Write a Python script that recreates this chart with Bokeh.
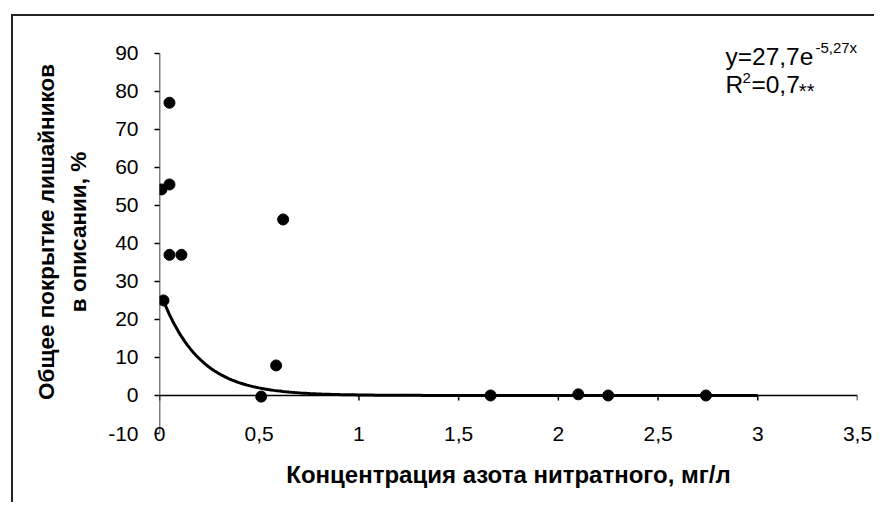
import numpy as np
from bokeh.plotting import figure
from bokeh.models import FixedTicker, CustomJSTickFormatter, Label, Span
from bokeh.embed import file_html
from bokeh.resources import INLINE

# Data
conc = [0.01, 0.05, 0.05, 0.05, 0.11, 0.62, 0.02, 0.585, 0.51, 1.66, 2.10, 2.25, 2.74]
cover = [54.2, 77.0, 55.5, 37.0, 37.0, 46.3, 25.0, 7.9, -0.3, 0.0, 0.3, 0.0, 0.0]

# Trendline printed on the chart: y = 27,7 e^(-5,27x)
trend_a = 27.7
trend_b = -5.27
trend_x0, trend_x1 = 0.02, 3.0

x_ticks = [0, 0.5, 1, 1.5, 2, 2.5, 3, 3.5]
y_ticks = [-10, 0, 10, 20, 30, 40, 50, 60, 70, 80, 90]

FONT = "Liberation Sans"

p = figure(width=866, height=488, x_range=(0, 3.5), y_range=(-10, 96),
           output_backend="svg", toolbar_location=None,
           min_border_left=146, min_border_top=14, min_border_right=22,
           min_border_bottom=71)
p.margin = (16, 0, 0, 13)
p.styles = {"box-shadow": "-2px -2px 0 0 #222", "overflow": "hidden",
            "clip-path": "inset(-4px 5px 0px -4px)"}
p.outline_line_color = None
p.grid.visible = False
p.background_fill_color = "white"
p.border_fill_color = "white"

fmt = CustomJSTickFormatter(code="return tick.toString().replace('.', ',');")

# y axis (line drawn separately from -10 to 90)
ya = p.yaxis[0]
ya.ticker = FixedTicker(ticks=y_ticks)
ya.formatter = fmt
ya.axis_line_color = None
ya.major_tick_line_color = "black"
ya.major_tick_line_width = 1.5
ya.major_tick_out = 5
ya.major_tick_in = 0
ya.minor_tick_line_color = None
ya.major_label_standoff = 16
ya.major_label_text_font = FONT
ya.major_label_text_font_size = "21px"
ya.major_label_text_color = "black"
ya.axis_label = "Общее покрытие лишайников\nв описании, %"
ya.axis_label_text_font = FONT
ya.axis_label_text_font_style = "bold"
ya.axis_label_text_font_size = "22.5px"
ya.axis_label_text_color = "black"
ya.axis_label_text_line_height = 1.3
ya.axis_label_standoff = 14

# x axis (labels only; the axis line is drawn at y = 0)
xa = p.xaxis[0]
xa.ticker = FixedTicker(ticks=x_ticks)
xa.formatter = fmt
xa.axis_line_color = None
xa.major_tick_line_color = None
xa.minor_tick_line_color = None
xa.major_tick_out = 0
xa.major_tick_in = 0
xa.major_label_standoff = -7
xa.major_label_text_font = FONT
xa.major_label_text_font_size = "21px"
xa.major_label_text_color = "black"
xa.axis_label = "Концентрация азота нитратного, мг/л"
xa.axis_label_text_font = FONT
xa.axis_label_text_font_style = "bold"
xa.axis_label_text_font_size = "24px"
xa.axis_label_text_color = "black"
xa.axis_label_standoff = 17

# axis lines
p.segment(x0=[x_ticks[0]], y0=[y_ticks[0]], x1=[x_ticks[0]], y1=[y_ticks[-1]],
          line_color="black", line_width=1.5)
p.add_layout(Span(location=0, dimension="width", line_color="black", line_width=1.5))
p.ray(x=x_ticks, y=[0] * len(x_ticks), length=5, length_units="screen",
      angle=-np.pi / 2, line_color="black", line_width=1.5)

# trendline
tx = np.linspace(trend_x0, trend_x1, 200)
ty = trend_a * np.exp(trend_b * tx)
p.line(tx, ty, line_color="black", line_width=3)

# points
p.scatter(conc, cover, marker="circle", size=11, color="black")

# equation
lab_kw = dict(text_font=FONT, text_color="black", text_baseline="alphabetic")
p.add_layout(Label(x=2.838, y=89.2, text="y=27,7e", text_font_size="24.5px", **lab_kw))
p.add_layout(Label(x=3.289, y=91.6, text="-5,27x", text_font_size="15px", **lab_kw))
p.add_layout(Label(x=2.838, y=81.9, text="R", text_font_size="24.5px", **lab_kw))
p.add_layout(Label(x=2.923, y=83.5, text="2", text_font_size="15px", **lab_kw))
p.add_layout(Label(x=2.968, y=81.9, text="=0,7", text_font_size="24.5px", **lab_kw))
p.add_layout(Label(x=3.206, y=80.2, text="**", text_font_size="20px", **lab_kw))

open("out.html", "w").write(file_html(p, INLINE))
